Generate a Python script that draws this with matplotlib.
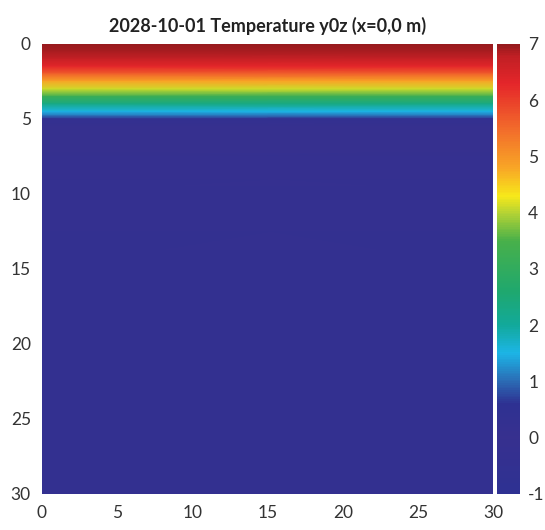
import numpy as np
import matplotlib
matplotlib.use('Agg')
import matplotlib.pyplot as plt
from matplotlib.colors import LinearSegmentedColormap

# depth profile (m) and temperature (°C), same for every x
depths = [0, 0.5, 1.0, 1.5, 2.0, 2.5, 3.0, 3.5, 4.0, 4.5, 4.8, 5.0, 5.5, 6, 7, 8, 10, 15, 20, 25, 30]
temps = [7.0, 6.9, 6.7, 6.3, 5.6, 4.8, 4.1, 3.2, 2.3, 1.5, 1.0, 0.3, -0.1, -0.1, -0.15, -0.2, -0.3, -0.4, -0.45, -0.5, -0.5]
x_pos = [0, 30]

x_ticks = [0, 5, 10, 15, 20, 25, 30]
y_ticks = [0, 5, 10, 15, 20, 25, 30]
cbar_ticks = [-1, 0, 1, 2, 3, 4, 5, 6, 7]
title = '2028-10-01 Temperature y0z (x=0,0 m)'

# colour stops (value, colour)
vmin, vmax = -1, 7
stops = [(-1, '#2e3192'), (0.0, '#37308f'), (0.6, '#2e3192'), (1.0, '#2b6cb5'),
         (1.5, '#1cb5e6'), (2.0, '#12a99a'), (2.6, '#1fa86e'), (3.5, '#48b04a'),
         (4.0, '#b5d334'), (4.3, '#f7e81a'), (4.8, '#f8a626'), (5.5, '#f26b2b'),
         (6.3, '#e5262a'), (6.8, '#c01f24'), (7, '#951a1d')]
cmap = LinearSegmentedColormap.from_list(
    'temp', [((v - vmin) / (vmax - vmin), c) for v, c in stops])

plt.rcParams['font.family'] = ['Lato', 'DejaVu Sans']
plt.rcParams['axes.unicode_minus'] = False

fig = plt.figure(figsize=(5.45, 5.3), dpi=100)
ax = fig.add_axes([0.077, 0.068, 0.828, 0.849])
cax = fig.add_axes([0.912, 0.068, 0.042, 0.849])

X, Y = np.meshgrid(x_pos, depths)
T = np.tile(np.array(temps)[:, None], (1, len(x_pos)))
mesh = ax.pcolormesh(X, Y, T, cmap=cmap, vmin=vmin, vmax=vmax, shading='gouraud')
ax.set_xlim(0, 30)
ax.set_ylim(30, 0)
ax.set_xticks(x_ticks)
ax.set_yticks(y_ticks)
ax.tick_params(length=0, labelsize=12.5, labelcolor='#333333', pad=8)
for s in ax.spines.values():
    s.set_visible(False)
ax.set_title(title, fontsize=13, fontweight='bold', color='#222222', pad=9)

cb = fig.colorbar(mesh, cax=cax, ticks=cbar_ticks)
cb.outline.set_visible(False)
cax.tick_params(length=0, labelsize=12.5, labelcolor='#333333', pad=6)

fig.savefig('out.png', dpi=100)
